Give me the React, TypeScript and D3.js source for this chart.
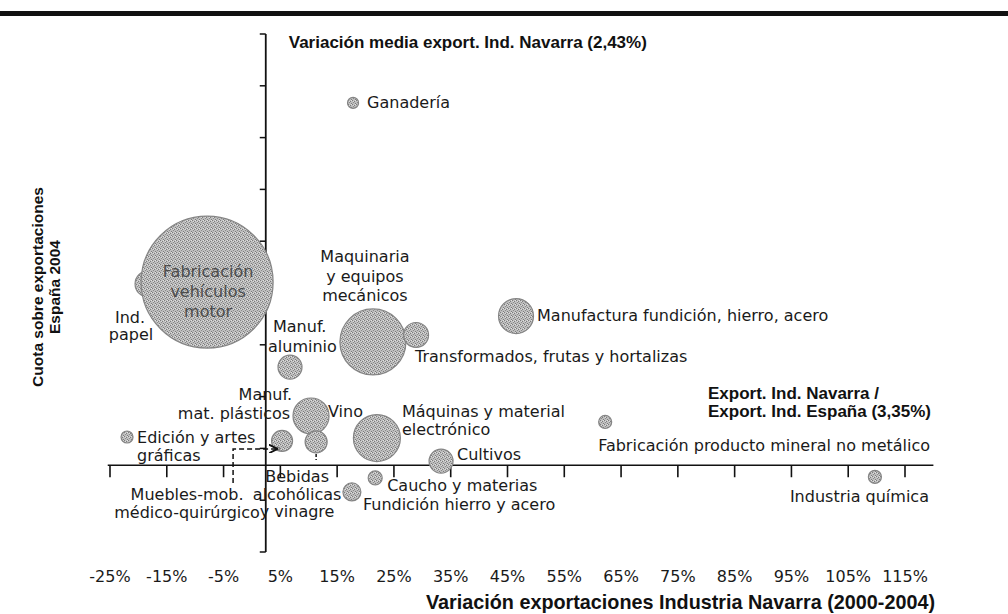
import React from 'react';
import * as d3 from 'd3';

// ---------- data ----------
const sectors = [
  'Ganadería',
  'Ind. papel',
  'Fabricación vehículos motor',
  'Maquinaria y equipos mecánicos',
  'Transformados, frutas y hortalizas',
  'Manufactura fundición, hierro, acero',
  'Manuf. aluminio',
  'Manuf. mat. plásticos',
  'Vino',
  'Bebidas alcohólicas y vinagre',
  'Edición y artes gráficas',
  'Muebles-mob. médico-quirúrgico',
  'Máquinas y material electrónico',
  'Cultivos',
  'Caucho y materias',
  'Fundición hierro y acero',
  'Fabricación producto mineral no metálico',
  'Industria química',
];
// Variación exportaciones Industria Navarra 2000-2004 (%)
const exportGrowth = [17.8, -18.3, -7.9, 21.3, 28.9, 46.5, 6.7, 5.3, 10.4, 11.3, -22.0, 4.6, 22.0, 33.3, 21.7, 17.6, 62.2, 109.7];
// Cuota sobre exportaciones España 2004 (%)
const spainShare = [17.34, 10.35, 10.42, 8.11, 8.38, 9.11, 7.14, 4.29, 5.25, 4.25, 4.44, 3.98, 4.4, 3.51, 2.86, 2.32, 5.02, 2.9];
// Bubble size (export volume, relative units)
const exportSize = [28, 155, 4000, 1000, 143, 281, 132, 101, 298, 111, 33, 2, 507, 132, 45, 74, 39, 39];

const xTickValues = d3.range(-25, 116, 10);
const xTickLabels = xTickValues.map((v) => `${v}%`);
const yTickValues = d3.range(0, 21, 2);
const avgGrowth = 2.43; // Variación media export. Ind. Navarra
const avgShare = 3.35; // Export. Ind. Navarra / Export. Ind. España

const topLabel = 'Variación media export. Ind. Navarra (2,43%)';
const shareLabel = ['Export. Ind. Navarra /', 'Export. Ind. España (3,35%)'];
const xTitle = 'Variación exportaciones Industria Navarra (2000-2004)';
const yTitle = ['Cuota sobre exportaciones', 'España 2004'];

// ---------- label layout (pixel offsets from bubble centre) ----------
type Line = { t: string; dx: number; dy: number };
type LabelLayout = { anchor: 'start' | 'middle' | 'end'; lines: Line[]; color?: string };
const labelLayout: LabelLayout[] = [
  { anchor: 'start', lines: [{ t: 'Ganadería', dx: 14, dy: 5 }] },
  { anchor: 'middle', lines: [{ t: 'Ind.', dx: -18, dy: 39 }, { t: 'papel', dx: -17, dy: 56 }] },
  {
    anchor: 'middle',
    color: '#4d4d4d',
    lines: [
      { t: 'Fabricación', dx: 1, dy: -5 },
      { t: 'vehículos', dx: 1, dy: 15 },
      { t: 'motor', dx: 1, dy: 35 },
    ],
  },
  {
    anchor: 'middle',
    lines: [
      { t: 'Maquinaria', dx: -8, dy: -80 },
      { t: 'y equipos', dx: -8, dy: -60 },
      { t: 'mecánicos', dx: -8, dy: -41 },
    ],
  },
  { anchor: 'start', lines: [{ t: 'Transformados, frutas y hortalizas', dx: -1, dy: 27 }] },
  { anchor: 'start', lines: [{ t: 'Manufactura fundición, hierro, acero', dx: 21, dy: 5 }] },
  { anchor: 'start', lines: [{ t: 'Manuf.', dx: -17, dy: -35 }, { t: 'aluminio', dx: -22, dy: -15 }] },
  { anchor: 'end', lines: [{ t: 'Manuf.', dx: 10, dy: -41 }, { t: 'mat. plásticos', dx: 8, dy: -22 }] },
  { anchor: 'start', lines: [{ t: 'Vino', dx: 17, dy: 1 }] },
  {
    anchor: 'middle',
    lines: [
      { t: 'Bebidas', dx: -19, dy: 40 },
      { t: 'alcohólicas', dx: -19, dy: 58 },
      { t: 'y vinagre', dx: -19, dy: 75 },
    ],
  },
  { anchor: 'start', lines: [{ t: 'Edición y artes', dx: 10, dy: 6 }, { t: 'gráficas', dx: 10, dy: 24 }] },
  { anchor: 'middle', lines: [{ t: 'Muebles-mob.', dx: -91, dy: 51 }, { t: 'médico-quirúrgico', dx: -91, dy: 69 }] },
  { anchor: 'start', lines: [{ t: 'Máquinas y material', dx: 25, dy: -21 }, { t: 'electrónico', dx: 25, dy: -3 }] },
  { anchor: 'start', lines: [{ t: 'Cultivos', dx: 16, dy: -1 }] },
  { anchor: 'start', lines: [{ t: 'Caucho y materias', dx: 12, dy: 13 }] },
  { anchor: 'start', lines: [{ t: 'Fundición hierro y acero', dx: 11, dy: 18 }] },
  { anchor: 'start', lines: [{ t: 'Fabricación producto mineral no metálico', dx: -7, dy: 29 }] },
  { anchor: 'start', lines: [{ t: 'Industria química', dx: -85, dy: 25 }] },
];

const W = 1008;
const H = 614;
const REG = '"DejaVu Sans", sans-serif';
const BOLD = '"Liberation Sans", Arial, sans-serif';

export default function App() {
  const x = d3.scaleLinear().domain([-25, 115]).range([110, 905]);
  const y = d3.scaleLinear().domain([0, 20]).range([552, 34]);
  const r = d3.scaleSqrt().domain([0, 4000]).range([0, 66]);

  const ax = x(avgGrowth);
  const ay = y(avgShare);

  const idxBebidas = sectors.indexOf('Bebidas alcohólicas y vinagre');
  const idxMuebles = sectors.indexOf('Muebles-mob. médico-quirúrgico');
  const bx = x(exportGrowth[idxBebidas]);
  const by = y(spainShare[idxBebidas]);
  const mx = x(exportGrowth[idxMuebles]);
  const my = y(spainShare[idxMuebles]);

  return (
    <svg
      width={W}
      height={H}
      style={{ position: 'absolute', left: 0, top: 0, background: '#fff' }}
    >
      <defs>
        <pattern id="dither" width="4" height="4" patternUnits="userSpaceOnUse">
          <rect width="4" height="4" fill="#bebebe" />
          <rect x="0" y="0" width="1" height="1" fill="#7c7c7c" />
          <rect x="2" y="1" width="1" height="1" fill="#7c7c7c" />
          <rect x="1" y="2" width="1" height="1" fill="#8a8a8a" />
          <rect x="3" y="3" width="1" height="1" fill="#7c7c7c" />
          <rect x="3" y="0" width="1" height="1" fill="#e2e2e2" />
          <rect x="1" y="1" width="1" height="1" fill="#dcdcdc" />
        </pattern>
        <marker id="arrow" viewBox="0 0 6 6" refX="5" refY="3" markerWidth="6" markerHeight="6" orient="auto">
          <path d="M0,0 L6,3 L0,6" fill="none" stroke="#111" strokeWidth="1.2" />
        </marker>
      </defs>
      <rect x={0} y={0} width={W} height={H} fill="#fff" />
      {/* top rule */}
      <rect x={0} y={11} width={W} height={5} fill="#111" />

      {/* horizontal axis (avg share) */}
      <line x1={x(-25.4)} x2={x(120)} y1={ay} y2={ay} stroke="#111" strokeWidth={1.6} />
      {xTickValues.map((v) => (
        <line key={v} x1={x(v)} x2={x(v)} y1={ay} y2={ay + 12} stroke="#111" strokeWidth={1.6} />
      ))}

      {/* vertical axis (avg growth) */}
      <line x1={ax} x2={ax} y1={y(20)} y2={y(0)} stroke="#111" strokeWidth={1.8} />
      {yTickValues.map((v) => (
        <line key={v} x1={ax - 6} x2={ax} y1={y(v)} y2={y(v)} stroke="#111" strokeWidth={1.5} />
      ))}

      {/* bubbles */}
      {sectors.map((s, i) => (
        <circle
          key={s}
          cx={x(exportGrowth[i])}
          cy={y(spainShare[i])}
          r={r(exportSize[i])}
          fill="url(#dither)"
          stroke="#858585"
          strokeWidth={1.2}
        />
      ))}

      {/* leaders */}
      <line
        x1={bx}
        x2={bx}
        y1={by + r(exportSize[idxBebidas]) + 1}
        y2={by + 18}
        stroke="#111"
        strokeWidth={1.5}
        strokeDasharray="3,2"
      />
      <polyline
        points={`${mx - 45},${my + 34} ${mx - 45},${my} ${mx - 2},${my}`}
        fill="none"
        stroke="#111"
        strokeWidth={1.5}
        strokeDasharray="5,3"
        markerEnd="url(#arrow)"
      />

      {/* bubble labels */}
      {sectors.map((s, i) => {
        const L = labelLayout[i];
        const cx = x(exportGrowth[i]);
        const cy = y(spainShare[i]);
        return (
          <g key={s} fontFamily={REG} fontSize={16} fill={L.color || '#1a1a1a'} textAnchor={L.anchor}>
            {L.lines.map((ln, j) => (
              <text key={j} x={cx + ln.dx} y={cy + ln.dy}>
                {ln.t}
              </text>
            ))}
          </g>
        );
      })}

      {/* axis annotations */}
      <text x={ax + 23} y={48} fontFamily={BOLD} fontWeight="bold" fontSize={17} fill="#111">
        {topLabel}
      </text>
      <g fontFamily={BOLD} fontWeight="bold" fontSize={17} fill="#111">
        <text x={708} y={ay - 66}>{shareLabel[0]}</text>
        <text x={708} y={ay - 48}>{shareLabel[1]}</text>
      </g>

      {/* x tick labels */}
      <g fontFamily={REG} fontSize={16} fill="#1a1a1a" textAnchor="middle">
        {xTickValues.map((v, i) => (
          <text key={v} x={x(v)} y={582}>
            {xTickLabels[i]}
          </text>
        ))}
      </g>

      {/* x title */}
      <text x={935} y={609} textAnchor="end" fontFamily={BOLD} fontWeight="bold" fontSize={19.8} fill="#111">
        {xTitle}
      </text>

      {/* y title */}
      <g fontFamily={BOLD} fontWeight="bold" fontSize={15.5} fill="#111" textAnchor="middle">
        <text transform="translate(43,287) rotate(-90)">{yTitle[0]}</text>
        <text transform="translate(60,287) rotate(-90)">{yTitle[1]}</text>
      </g>
    </svg>
  );
}
